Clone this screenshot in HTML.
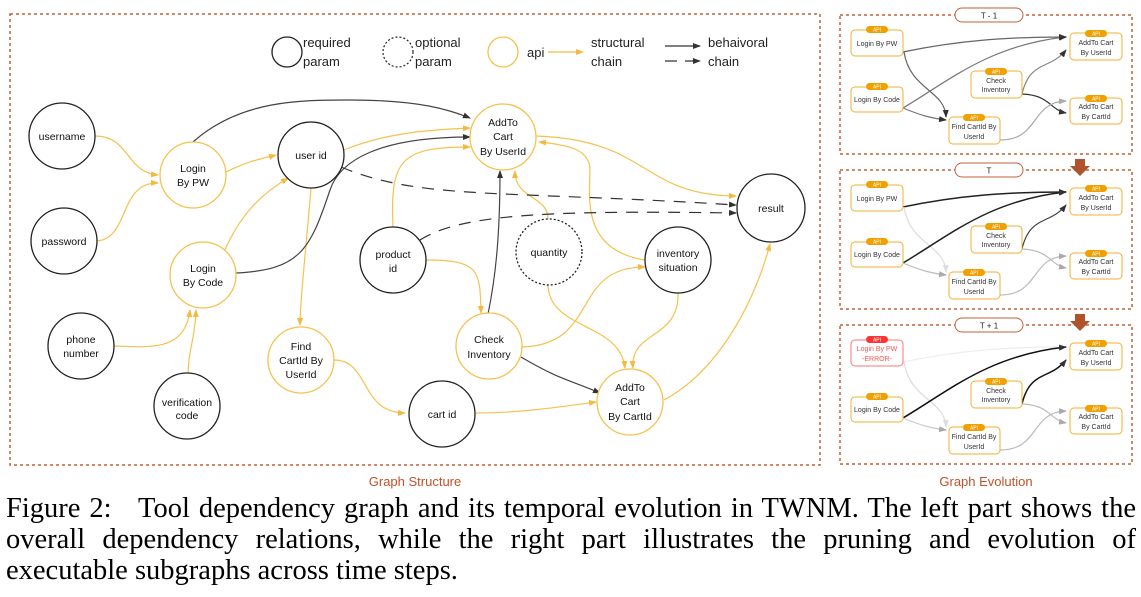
<!DOCTYPE html>
<html><head><meta charset="utf-8"><style>
html,body{margin:0;padding:0;background:#fff}
body{width:1141px;height:597px;overflow:hidden;position:relative}
svg text{font-family:"Liberation Sans",sans-serif}
.cap{position:absolute;left:6px;top:493px;width:1130px;font-family:"Liberation Serif",serif;font-size:28.5px;line-height:31px;color:#000;text-align:justify}
</style></head><body>
<svg width="1141" height="597" style="position:absolute;left:0;top:0">
<defs>
<marker id="ay" markerWidth="8" markerHeight="8" refX="7" refY="4" orient="auto" markerUnits="userSpaceOnUse"><path d="M0,1 L8,4 L0,7z" fill="#f5b942"/></marker>
<marker id="ak" markerWidth="8" markerHeight="8" refX="7" refY="4" orient="auto" markerUnits="userSpaceOnUse"><path d="M0,1 L8,4 L0,7z" fill="#333"/></marker>
<marker id="ag" markerWidth="8" markerHeight="8" refX="7" refY="4" orient="auto" markerUnits="userSpaceOnUse"><path d="M0,1 L8,4 L0,7z" fill="#aaa"/></marker>
<marker id="al" markerWidth="8" markerHeight="8" refX="7" refY="4" orient="auto" markerUnits="userSpaceOnUse"><path d="M0,1 L8,4 L0,7z" fill="#ddd"/></marker>
</defs>
<rect x="10" y="14" width="810" height="451" fill="none" stroke="#c0603a" stroke-width="1.5" stroke-dasharray="3,3"/>
<g font-size="13" fill="#222">
<circle cx="287" cy="52" r="15" fill="none" stroke="#222" stroke-width="1.3"/>
<text x="303" y="47">required</text><text x="303" y="66">param</text>
<circle cx="398" cy="52" r="15" fill="none" stroke="#222" stroke-width="1.2" stroke-dasharray="2,2"/>
<text x="415" y="47">optional</text><text x="415" y="66">param</text>
<circle cx="503" cy="52" r="15" fill="none" stroke="#f5c24e" stroke-width="1.3"/>
<text x="527" y="57">api</text>
<line x1="548" y1="52" x2="583" y2="52" stroke="#f5b942" stroke-width="1.3" marker-end="url(#ay)"/>
<text x="591" y="47">structural</text><text x="591" y="66">chain</text>
<line x1="665" y1="46" x2="700" y2="46" stroke="#333" stroke-width="1.3" marker-end="url(#ak)"/>
<line x1="665" y1="61" x2="700" y2="61" stroke="#333" stroke-width="1.3" stroke-dasharray="12,8" marker-end="url(#ak)"/>
<text x="708" y="47">behaivoral</text><text x="708" y="66">chain</text>
</g>
<g fill="none" stroke="#f5c24e" stroke-width="1.2" marker-end="url(#ay)">
<path d="M95,136 C130,136 125,172 158,175"/>
<path d="M95,241 C130,241 118,182 158,183"/>
<path d="M226,172 C250,160 265,158 276,155"/>
<path d="M224,252 C240,215 260,195 288,178"/>
<path d="M114,346 C150,347 185,352 190,310"/>
<path d="M188,376 C188,350 195,340 196,310"/>
<path d="M344,150 C380,135 420,130 470,128"/>
<path d="M311,188 C306,250 300,300 300,325"/>
<path d="M334,360 C370,360 360,413 405,413"/>
<path d="M476,413 C520,413 560,407 596,402"/>
<path d="M393,227 C390,160 400,147 470,147"/>
<path d="M425,260 C480,260 480,270 481,313"/>
<path d="M548,284 C548,330 620,322 625,368"/>
<path d="M678,292 C680,340 630,330 633,368"/>
<path d="M522,347 C600,345 570,267 645,267"/>
<path d="M645,260 C580,250 590,195 590,170 C590,150 570,145 539,142"/>
<path d="M548,219 C548,195 515,200 515,171"/>
<path d="M536,136 C650,140 640,195 736,196"/>
<path d="M664,400 C720,370 755,300 770,244"/>
</g>
<g fill="none" stroke="#444" stroke-width="1.2" marker-end="url(#ak)">
<path d="M193,142 C240,100 300,100 350,100 C420,100 450,110 470,118"/>
<path d="M236,273 C300,270 310,250 330,190 C340,160 380,137 470,137"/>
<path d="M488,314 C495,280 500,240 500,171"/>
<path d="M521,357 C560,380 570,380 600,393"/>
</g>
<g fill="none" stroke="#333" stroke-width="1.2" stroke-dasharray="12,9" marker-end="url(#ak)">
<path d="M341,167 C420,200 500,190 736,205"/>
<path d="M420,240 C460,215 540,210 736,213"/>
</g>
<g fill="#fff" stroke-width="1.3">
<circle cx="62" cy="136" r="33" stroke="#222"/>
<circle cx="64" cy="241" r="33" stroke="#222"/>
<circle cx="81" cy="346" r="33" stroke="#222"/>
<circle cx="187" cy="406" r="33" stroke="#222"/>
<circle cx="193" cy="175" r="33" stroke="#f5c24e"/>
<circle cx="203" cy="275" r="33" stroke="#f5c24e"/>
<circle cx="311" cy="155" r="33" stroke="#222"/>
<circle cx="301" cy="360" r="33" stroke="#f5c24e"/>
<circle cx="442" cy="414" r="33" stroke="#222"/>
<circle cx="393" cy="260" r="33" stroke="#222"/>
<circle cx="549" cy="252" r="33" stroke="#222" stroke-dasharray="2,2"/>
<circle cx="489" cy="346" r="33" stroke="#f5c24e"/>
<circle cx="503" cy="137" r="33" stroke="#f5c24e"/>
<circle cx="678" cy="260" r="33" stroke="#222"/>
<circle cx="630" cy="402" r="33" stroke="#f5c24e"/>
<circle cx="771" cy="208" r="34" stroke="#222"/>
</g>
<g font-size="10.5" fill="#111" text-anchor="middle">
<text x="62" y="140">username</text>
<text x="64" y="245">password</text>
<text x="81" y="343">phone</text><text x="81" y="357">number</text>
<text x="187" y="406">verification</text><text x="187" y="419">code</text>
<text x="193" y="172">Login</text><text x="193" y="186">By PW</text>
<text x="203" y="272">Login</text><text x="203" y="286">By Code</text>
<text x="311" y="159">user id</text>
<text x="301" y="350">Find</text><text x="301" y="364">CartId By</text><text x="301" y="378">UserId</text>
<text x="442" y="418">cart id</text>
<text x="393" y="258">product</text><text x="393" y="272">id</text>
<text x="549" y="256">quantity</text>
<text x="489" y="343">Check</text><text x="489" y="358">Inventory</text>
<text x="503" y="126">AddTo</text><text x="503" y="140">Cart</text><text x="503" y="155">By UserId</text>
<text x="678" y="257">inventory</text><text x="678" y="271">situation</text>
<text x="630" y="391">AddTo</text><text x="630" y="405">Cart</text><text x="630" y="420">By CartId</text>
<text x="771" y="212">result</text>
</g>
<text x="415" y="486" font-size="13" fill="#c0522a" text-anchor="middle">Graph Structure</text>
<text x="986" y="486" font-size="13" fill="#c0522a" text-anchor="middle">Graph Evolution</text>

<g>
<rect x="840" y="15" width="292" height="139" fill="none" stroke="#c0603a" stroke-width="1.5" stroke-dasharray="3,3"/>
<rect x="955" y="8" width="68" height="14" rx="7" fill="#fff" stroke="#c0603a"/>
<text x="989" y="18.5" font-size="8" text-anchor="middle" fill="#222">T - 1</text>
</g>
<g transform="translate(0,155)">
<rect x="840" y="15" width="292" height="139" fill="none" stroke="#c0603a" stroke-width="1.5" stroke-dasharray="3,3"/>
<rect x="955" y="8" width="68" height="14" rx="7" fill="#fff" stroke="#c0603a"/>
<text x="989" y="18.5" font-size="8" text-anchor="middle" fill="#222">T</text>
</g>
<g transform="translate(0,310)">
<rect x="840" y="15" width="292" height="139" fill="none" stroke="#c0603a" stroke-width="1.5" stroke-dasharray="3,3"/>
<rect x="955" y="8" width="68" height="14" rx="7" fill="#fff" stroke="#c0603a"/>
<text x="989" y="18.5" font-size="8" text-anchor="middle" fill="#222">T + 1</text>
</g>
<path d="M1075,159 h10 v7 h5 l-10,10 l-10,-10 h5z" fill="#b0532c"/>
<path d="M1075,314 h10 v7 h5 l-10,10 l-10,-10 h5z" fill="#b0532c"/>

<g fill="none" stroke-width="1.2">
<path d="M903,52 C960,40 1010,37 1066,37" stroke="#666" marker-end="url(#ak)"/>
<path d="M904,52 C910,90 945,90 946,117" stroke="#666" marker-end="url(#ak)"/>
<path d="M903,108 C950,80 990,45 1066,37" stroke="#777" marker-end="url(#ak)"/>
<path d="M903,108 C920,115 930,118 946,120" stroke="#777" marker-end="url(#ak)"/>
<path d="M1022,94 C1030,60 1050,70 1066,50" stroke="#888" marker-end="url(#ak)"/>
<path d="M1022,94 C1050,95 1050,110 1066,113" stroke="#333" marker-end="url(#ak)"/>
<path d="M1000,140 C1040,140 1030,102 1066,101" stroke="#aaa" marker-end="url(#ag)"/>
<path d="M903,207 C960,195 1010,192 1066,192" stroke="#222" stroke-width="1.5" marker-end="url(#ak)"/>
<path d="M904,207 C910,245 945,245 946,272" stroke="#ddd" marker-end="url(#al)"/>
<path d="M903,263 C950,235 990,200 1066,192" stroke="#222" stroke-width="1.5" marker-end="url(#ak)"/>
<path d="M903,263 C920,270 930,273 946,275" stroke="#bbb" marker-end="url(#ag)"/>
<path d="M1022,249 C1030,215 1050,225 1066,205" stroke="#444" marker-end="url(#ak)"/>
<path d="M1022,249 C1050,250 1050,265 1066,268" stroke="#bbb" marker-end="url(#ag)"/>
<path d="M1000,295 C1040,295 1030,257 1066,256" stroke="#bbb" marker-end="url(#ag)"/>
<path d="M903,362 C960,350 1010,347 1066,347" stroke="#eee" marker-end="url(#al)"/>
<path d="M904,362 C910,400 945,400 946,427" stroke="#ddd" marker-end="url(#al)"/>
<path d="M903,418 C950,390 990,355 1066,347" stroke="#111" stroke-width="1.5" marker-end="url(#ak)"/>
<path d="M903,418 C920,425 930,428 946,430" stroke="#ccc" marker-end="url(#ag)"/>
<path d="M1022,404 C1030,370 1050,380 1066,360" stroke="#111" stroke-width="1.5" marker-end="url(#ak)"/>
<path d="M1022,404 C1050,405 1050,420 1066,423" stroke="#bbb" marker-end="url(#ag)"/>
<path d="M1000,450 C1040,450 1030,412 1066,411" stroke="#bbb" marker-end="url(#ag)"/>
</g>

<g font-size="7" text-anchor="middle" fill="#333">
<rect x="851" y="30" width="52" height="26" rx="4" fill="#fff" stroke="#f0b030"/><rect x="866" y="26" width="22" height="7" rx="3.5" fill="#f0a000"/><text x="877" y="31.5" font-size="5" fill="#fff">API</text><text x="877" y="46">Login By PW</text>
<rect x="851" y="87" width="52" height="25" rx="4" fill="#fff" stroke="#f0b030"/><rect x="866" y="83" width="22" height="7" rx="3.5" fill="#f0a000"/><text x="877" y="88.5" font-size="5" fill="#fff">API</text><text x="877" y="102">Login By Code</text>
<rect x="971" y="71" width="51" height="27" rx="4" fill="#fff" stroke="#f0b030"/><rect x="985" y="68" width="22" height="7" rx="3.5" fill="#f0a000"/><text x="996" y="73.5" font-size="5" fill="#fff">API</text><text x="996" y="83">Check</text><text x="996" y="92">Inventory</text>
<rect x="949" y="117" width="51" height="27" rx="4" fill="#fff" stroke="#f0b030"/><rect x="963" y="114" width="22" height="7" rx="3.5" fill="#f0a000"/><text x="974" y="119.5" font-size="5" fill="#fff">API</text><text x="974" y="129">Find CartId By</text><text x="974" y="139">UserId</text>
<rect x="1070" y="33" width="52" height="27" rx="4" fill="#fff" stroke="#f0b030"/><rect x="1085" y="30" width="22" height="7" rx="3.5" fill="#f0a000"/><text x="1096" y="35.5" font-size="5" fill="#fff">API</text><text x="1096" y="45">AddTo Cart</text><text x="1096" y="55">By UserId</text>
<rect x="1070" y="98" width="52" height="26" rx="4" fill="#fff" stroke="#f0b030"/><rect x="1085" y="95" width="22" height="7" rx="3.5" fill="#f0a000"/><text x="1096" y="100.5" font-size="5" fill="#fff">API</text><text x="1096" y="109">AddTo Cart</text><text x="1096" y="119">By CartId</text>
<rect x="851" y="185" width="52" height="26" rx="4" fill="#fff" stroke="#f0b030"/><rect x="866" y="181" width="22" height="7" rx="3.5" fill="#f0a000"/><text x="877" y="186.5" font-size="5" fill="#fff">API</text><text x="877" y="201">Login By PW</text>
<rect x="851" y="242" width="52" height="25" rx="4" fill="#fff" stroke="#f0b030"/><rect x="866" y="238" width="22" height="7" rx="3.5" fill="#f0a000"/><text x="877" y="243.5" font-size="5" fill="#fff">API</text><text x="877" y="257">Login By Code</text>
<rect x="971" y="226" width="51" height="27" rx="4" fill="#fff" stroke="#f0b030"/><rect x="985" y="223" width="22" height="7" rx="3.5" fill="#f0a000"/><text x="996" y="228.5" font-size="5" fill="#fff">API</text><text x="996" y="238">Check</text><text x="996" y="247">Inventory</text>
<rect x="949" y="272" width="51" height="27" rx="4" fill="#fff" stroke="#f0b030"/><rect x="963" y="269" width="22" height="7" rx="3.5" fill="#f0a000"/><text x="974" y="274.5" font-size="5" fill="#fff">API</text><text x="974" y="284">Find CartId By</text><text x="974" y="294">UserId</text>
<rect x="1070" y="188" width="52" height="27" rx="4" fill="#fff" stroke="#f0b030"/><rect x="1085" y="185" width="22" height="7" rx="3.5" fill="#f0a000"/><text x="1096" y="190.5" font-size="5" fill="#fff">API</text><text x="1096" y="200">AddTo Cart</text><text x="1096" y="210">By UserId</text>
<rect x="1070" y="253" width="52" height="26" rx="4" fill="#fff" stroke="#f0b030"/><rect x="1085" y="250" width="22" height="7" rx="3.5" fill="#f0a000"/><text x="1096" y="255.5" font-size="5" fill="#fff">API</text><text x="1096" y="264">AddTo Cart</text><text x="1096" y="274">By CartId</text>
<rect x="851" y="340" width="52" height="26" rx="4" fill="#fff" stroke="#f77"/><rect x="866" y="336" width="22" height="7" rx="3.5" fill="#f33"/><text x="877" y="341.5" font-size="5" fill="#fff">API</text><text x="877" y="351" fill="#f55">Login By PW</text><text x="877" y="361" fill="#f55">-ERROR-</text>
<rect x="851" y="397" width="52" height="25" rx="4" fill="#fff" stroke="#f0b030"/><rect x="866" y="393" width="22" height="7" rx="3.5" fill="#f0a000"/><text x="877" y="398.5" font-size="5" fill="#fff">API</text><text x="877" y="412">Login By Code</text>
<rect x="971" y="381" width="51" height="27" rx="4" fill="#fff" stroke="#f0b030"/><rect x="985" y="378" width="22" height="7" rx="3.5" fill="#f0a000"/><text x="996" y="383.5" font-size="5" fill="#fff">API</text><text x="996" y="393">Check</text><text x="996" y="402">Inventory</text>
<rect x="949" y="427" width="51" height="27" rx="4" fill="#fff" stroke="#f0b030"/><rect x="963" y="424" width="22" height="7" rx="3.5" fill="#f0a000"/><text x="974" y="429.5" font-size="5" fill="#fff">API</text><text x="974" y="439">Find CartId By</text><text x="974" y="449">UserId</text>
<rect x="1070" y="343" width="52" height="27" rx="4" fill="#fff" stroke="#f0b030"/><rect x="1085" y="340" width="22" height="7" rx="3.5" fill="#f0a000"/><text x="1096" y="345.5" font-size="5" fill="#fff">API</text><text x="1096" y="355">AddTo Cart</text><text x="1096" y="365">By UserId</text>
<rect x="1070" y="408" width="52" height="26" rx="4" fill="#fff" stroke="#f0b030"/><rect x="1085" y="405" width="22" height="7" rx="3.5" fill="#f0a000"/><text x="1096" y="410.5" font-size="5" fill="#fff">API</text><text x="1096" y="419">AddTo Cart</text><text x="1096" y="429">By CartId</text>
</g>
</svg>
<div class="cap">Figure 2:&nbsp;&nbsp; Tool dependency graph and its temporal evolution in TWNM. The left part shows the overall dependency relations, while the right part illustrates the pruning and evolution of executable subgraphs across time steps.</div>
</body></html>
